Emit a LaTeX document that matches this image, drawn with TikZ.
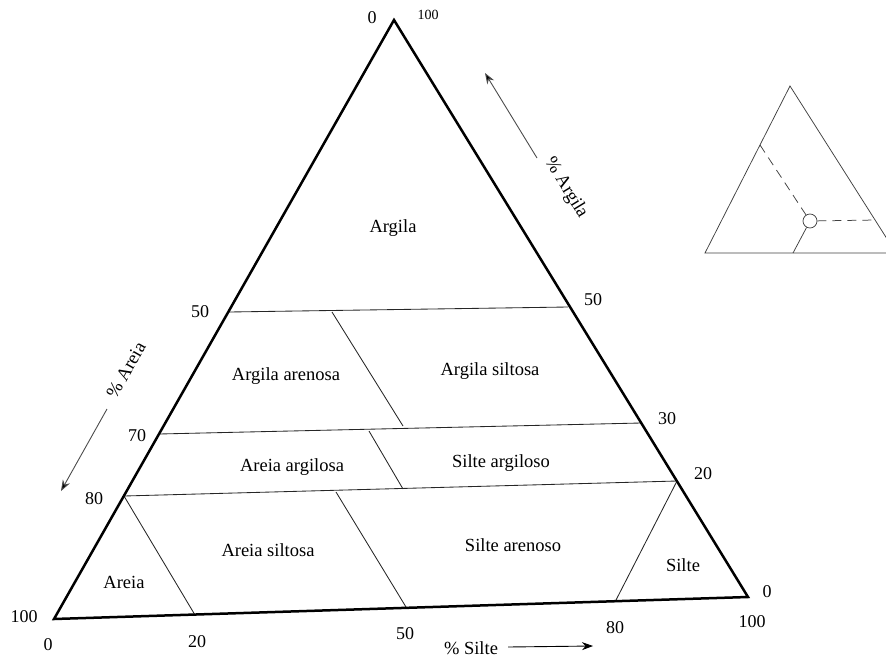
\documentclass[tikz,border=0pt]{standalone}
\usepackage{fontspec}
\setmainfont{Liberation Serif}
\usetikzlibrary{arrows.meta}
\begin{document}
\begin{tikzpicture}[x=1pt,y=-1pt,
  edge/.style={line width=2.5pt, line join=miter},
  div/.style={line width=0.85pt, draw=black!85},
  lbl/.style={font=\fontsize{18.5}{22}\selectfont, inner sep=0pt},
  num/.style={font=\fontsize{18}{21}\selectfont, inner sep=0pt},
  small/.style={font=\fontsize{14}{16}\selectfont, inner sep=0pt},
  axarr/.style={line width=0.9pt, draw=black!70, -{Stealth[length=11pt,width=8pt,fill=black]}},
  inset/.style={line width=0.75pt, draw=black!75},
  insetdash/.style={line width=0.75pt, draw=black!75, dash pattern=on 9pt off 6pt}]
\useasboundingbox (0,0) rectangle (886,659);
% main vertices
\coordinate (A) at (54,619);
\coordinate (B) at (748,597);
\coordinate (C) at (394,20);
% left edge points
\coordinate (L50) at (229,312);
\coordinate (L70) at (159,434);
\coordinate (L80) at (124,496);
% right edge points
\coordinate (R50) at (568,307);
\coordinate (R30) at (641,423);
\coordinate (R20) at (677,481);
% bottom points
\coordinate (B20) at (195,615);
\coordinate (B50) at (406,607);
\coordinate (B80) at (615,602);
% interior division points
\coordinate (D1t) at (332,312);
\coordinate (D1b) at (403,426);
\coordinate (D2t) at (369,431);
\coordinate (D2b) at (403,489);
\coordinate (D3t) at (336,492);
\coordinate (D3b) at (406,607);
% division lines
\draw[div] (L50) -- (R50);
\draw[div] (L70) -- (R30);
\draw[div] (L80) -- (R20);
\draw[div] (D1t) -- (D1b);
\draw[div] (D2t) -- (D2b);
\draw[div] (D3t) -- (D3b);
\draw[div] (L80) -- (B20);
\draw[div] (R20) -- (B80);
% main triangle
\draw[edge] (A) -- (B) -- (C) -- cycle;
% region labels
\node[lbl] (argila) at (393,228) {Argila};
\node[lbl] (argare) at (286,376) {Argila arenosa};
\node[lbl] (argsil) at (490,371) {Argila siltosa};
\node[lbl] (arearg) at (292,467) {Areia argilosa};
\node[lbl] (silarg) at (501,463) {Silte argiloso};
\node[lbl] (aresil) at (268,550) {Areia siltosa};
\node[lbl] (silare) at (513,545) {Silte arenoso};
\node[lbl] (areia) at (124,582) {Areia};
\node[lbl] (silte) at (683,565) {Silte};
% numbers: top
\node[num] (t0) at (372,18) {0};
\node[small] (t100) at (428,15) {100};
% numbers: left edge
\node[num] (l50) at (200,312) {50};
\node[num] (l70) at (137,436) {70};
\node[num] (l80) at (94,499) {80};
\node[num] (l100) at (24,617) {100};
% numbers: bottom
\node[num] (b0) at (48,645) {0};
\node[num] (b20) at (197,642) {20};
\node[num] (b50) at (405,634) {50};
\node[num] (b80) at (615,628) {80};
\node[num] (b100) at (752,622) {100};
% numbers: right edge
\node[num] (r0) at (767,592) {0};
\node[num] (r20) at (703,474) {20};
\node[num] (r30) at (667,419) {30};
\node[num] (r50) at (593,300) {50};
% axis titles and arrows
\node[lbl, rotate=-58.5] (targ) at (566,188) {\% Argila};
\coordinate (argT) at (537,158);
\coordinate (argH) at (485,73);
\draw[axarr] (argT) -- (argH);
\node[lbl, rotate=60.4] (tare) at (126,370) {\% Areia};
\coordinate (areT) at (107,409);
\coordinate (areH) at (61,491);
\draw[axarr] (areT) -- (areH);
\node[lbl] (tsil) at (471,648) {\% Silte};
\coordinate (silT) at (508,647);
\coordinate (silH) at (593,646);
\draw[axarr, draw=black] (silT) -- (silH);
% inset triangle
\begin{scope}
\clip (0,0) rectangle (886,659);
\coordinate (I1) at (790,86);
\coordinate (I2) at (705,253);
\coordinate (I3) at (896,253);
\draw[inset] (I1) -- (I2) -- (I3) -- cycle;
\node[draw=black!75, line width=0.75pt, circle, minimum size=14pt, inner sep=0pt] (O) at (810,221) {};
\coordinate (P) at (760,145);
\coordinate (R) at (876,220);
\coordinate (Q) at (793,253);
\draw[insetdash] (P) -- (O);
\draw[insetdash] (O) -- (R);
\draw[inset] (O) -- (Q);
\end{scope}
\end{tikzpicture}
\end{document}
